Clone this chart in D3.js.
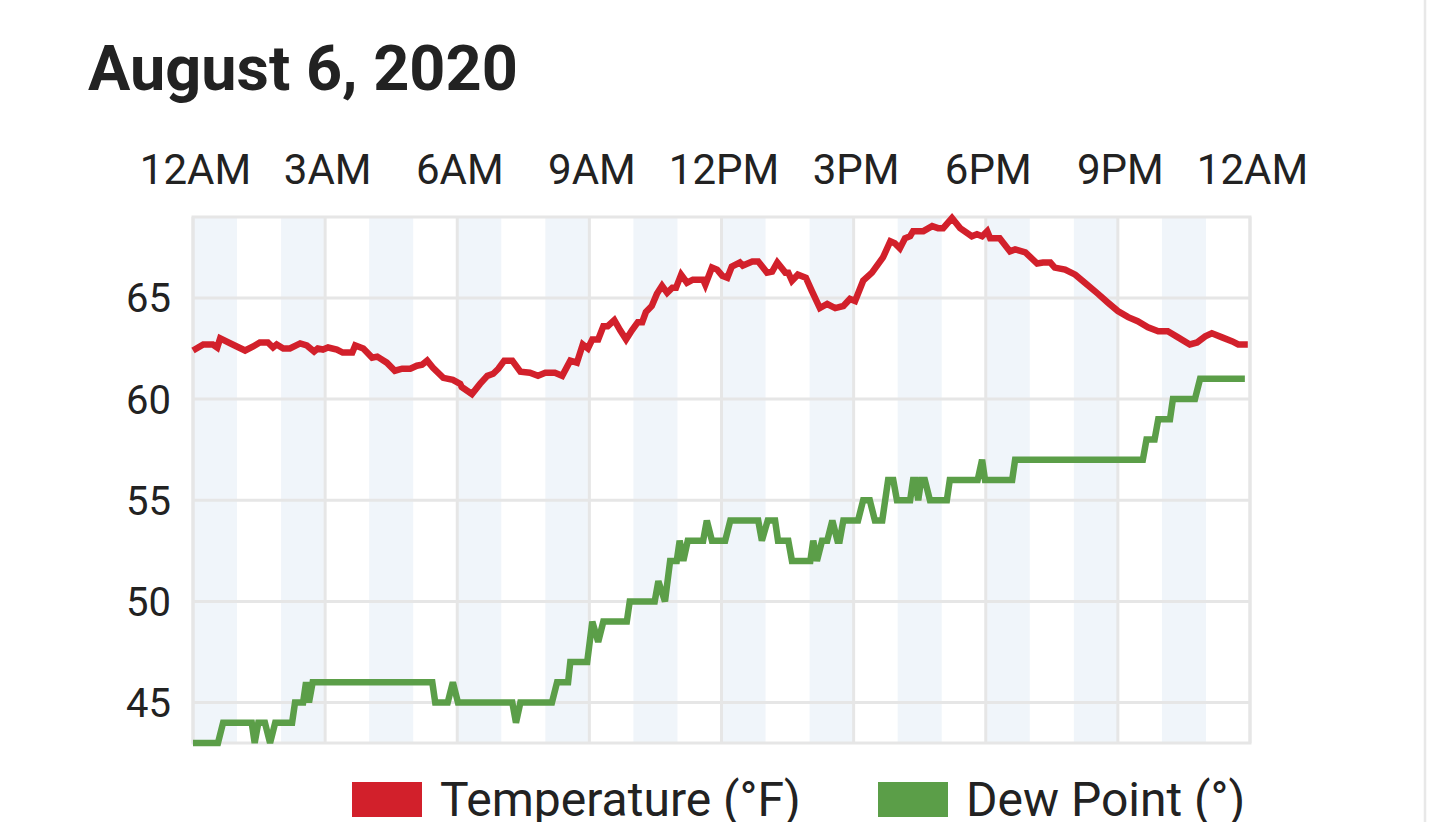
<!DOCTYPE html>
<html>
<head>
<meta charset="utf-8">
<script src="https://cdn.jsdelivr.net/npm/d3@7"></script>
<style>
  html, body { margin: 0; padding: 0; background: #fff; overflow: hidden; }
  svg { display: block; font-family: Roboto, "Noto Sans", sans-serif; }
</style>
</head>
<body>
<svg id="chart" width="1440" height="822"></svg>
<script>
// ---------------- DATA ----------------
const title = "August 6, 2020";
const xTickMinutes = [0, 180, 360, 540, 720, 900, 1080, 1260, 1440];
const xTickLabels = ["12AM", "3AM", "6AM", "9AM", "12PM", "3PM", "6PM", "9PM", "12AM"];
const yTickValues = [45, 50, 55, 60, 65];
const shadedHours = [0, 2, 4, 6, 8, 10, 12, 14, 16, 18, 20, 22];
const seriesNames = ["Temperature (°F)", "Dew Point (°)"];

// Temperature: minutes since midnight, °F
const tempMinutes = [0,14,27,33,37,54,71,82,91,102,109,114,123,132,146,155,165,170,177,184,196,204,217,221,232,244,251,264,275,285,296,305,312,319,327,341,354,364,366,380,391,401,409,416,424,435,446,459,470,480,493,503,514,523,531,538,544,552,559,565,574,582,590,598,606,612,617,625,632,639,646,653,658,665,673,681,695,698,707,714,721,728,734,745,749,762,770,782,789,796,807,811,816,824,835,843,854,864,875,886,895,902,913,925,940,950,956,963,970,977,981,995,1007,1015,1022,1034,1045,1061,1068,1075,1082,1086,1099,1113,1120,1134,1150,1158,1168,1174,1188,1202,1215,1233,1247,1260,1274,1287,1301,1315,1328,1342,1358,1368,1379,1388,1402,1416,1424,1437];
const tempValues = [62.4,62.7,62.7,62.55,63.0,62.7,62.4,62.6,62.8,62.8,62.55,62.7,62.5,62.5,62.75,62.65,62.35,62.5,62.45,62.55,62.45,62.3,62.3,62.65,62.5,62.05,62.1,61.8,61.4,61.5,61.5,61.65,61.7,61.9,61.55,61.05,60.95,60.75,60.6,60.25,60.75,61.15,61.25,61.5,61.9,61.9,61.35,61.3,61.15,61.3,61.3,61.15,61.9,61.8,62.7,62.5,62.95,62.95,63.6,63.6,63.9,63.4,62.95,63.4,63.8,63.8,64.3,64.6,65.2,65.6,65.25,65.5,65.5,66.15,65.75,65.9,65.9,65.65,66.5,66.4,66.1,66.0,66.55,66.75,66.6,66.8,66.8,66.25,66.3,66.75,66.25,66.25,65.85,66.15,66.0,65.35,64.5,64.7,64.5,64.6,64.95,64.85,65.85,66.25,67.0,67.8,67.7,67.45,67.95,68.05,68.3,68.3,68.55,68.45,68.45,68.95,68.45,68.05,68.15,68.05,68.3,67.95,67.95,67.3,67.4,67.25,66.7,66.75,66.75,66.5,66.4,66.15,65.75,65.2,64.75,64.35,64.05,63.85,63.55,63.35,63.35,63.05,62.7,62.8,63.1,63.25,63.05,62.85,62.7,62.7];

// Dew point: minutes since midnight, °
const dewMinutes = [0,34,41,80,84,89,98,105,112,135,139,150,154,158,163,326,330,347,354,361,435,440,446,489,496,511,514,537,544,552,559,591,595,629,634,643,650,659,663,668,674,695,700,707,725,732,770,775,783,793,797,811,816,841,845,850,857,864,871,878,881,886,906,913,922,929,939,947,954,959,977,981,984,988,992,997,1004,1027,1031,1069,1075,1079,1116,1120,1294,1299,1310,1315,1331,1335,1365,1372,1433];
const dewValues = [43,43,44,44,43,44,44,43,44,44,45,45,46,45,46,46,45,45,46,45,45,44,45,45,46,46,47,47,49,48,49,49,50,50,51,50,52,52,53,52,53,53,54,53,53,54,54,53,54,54,53,53,52,52,53,52,53,53,54,53,53,54,54,55,55,54,54,56,56,55,55,56,56,55,56,56,55,55,56,56,57,56,56,57,57,58,58,59,59,60,60,61,61];

const seriesColors = ["#d2202b", "#5b9e48"];

// ---------------- LAYOUT ----------------
const svg = d3.select("#chart");
const W = 1440, H = 822;
const plot = { left: 193, right: 1250, top: 217, bottom: 743 };

const x = d3.scaleLinear().domain([0, 1440]).range([plot.left, plot.right]);
const y = d3.scaleLinear().domain([43, 69]).range([plot.bottom, plot.top]);

const textColor = "#222";
const gridColor = "#e6e6e6";

// right-edge divider
svg.append("line")
  .attr("x1", 1425).attr("x2", 1425).attr("y1", 0).attr("y2", H)
  .attr("stroke", "#e8e8e8").attr("stroke-width", 2.5);

// title
svg.append("text")
  .attr("x", 88).attr("y", 90)
  .attr("font-size", 63).attr("font-weight", 700)
  .attr("fill", textColor)
  .text(title);

// shaded hour bands
svg.append("g").selectAll("rect")
  .data(shadedHours)
  .join("rect")
  .attr("x", d => x(d * 60))
  .attr("width", d => x((d + 1) * 60) - x(d * 60))
  .attr("y", plot.top)
  .attr("height", plot.bottom - plot.top)
  .attr("fill", "#f0f5fa");

// vertical grid
svg.append("g").selectAll("line")
  .data(xTickMinutes)
  .join("line")
  .attr("x1", d => x(d)).attr("x2", d => x(d))
  .attr("y1", plot.top).attr("y2", plot.bottom)
  .attr("stroke", gridColor).attr("stroke-width", 3);

// horizontal grid
svg.append("g").selectAll("line")
  .data(yTickValues)
  .join("line")
  .attr("x1", plot.left).attr("x2", plot.right)
  .attr("y1", d => y(d)).attr("y2", d => y(d))
  .attr("stroke", gridColor).attr("stroke-width", 3);

// frame
svg.append("rect")
  .attr("x", plot.left).attr("y", plot.top)
  .attr("width", plot.right - plot.left).attr("height", plot.bottom - plot.top)
  .attr("fill", "none").attr("stroke", gridColor).attr("stroke-width", 3);

// top x-axis labels
const xAxis = d3.axisTop(x)
  .tickValues(xTickMinutes)
  .tickFormat((d, i) => xTickLabels[i])
  .tickSize(0).tickPadding(0);
const gx = svg.append("g").attr("transform", `translate(0,184)`).call(xAxis);
gx.select(".domain").remove();
gx.selectAll("text")
  .attr("font-size", 42).attr("fill", textColor)
  .attr("font-family", "Roboto, sans-serif")
  .attr("dy", 0)
  .attr("dx", 2);

// left y-axis labels
const yAxis = d3.axisLeft(y)
  .tickValues(yTickValues)
  .tickFormat(d3.format("d"))
  .tickSize(0).tickPadding(0);
const gy = svg.append("g").attr("transform", `translate(171,0)`).call(yAxis);
gy.select(".domain").remove();
gy.selectAll("text")
  .attr("font-size", 40).attr("fill", textColor)
  .attr("font-family", "Roboto, sans-serif")
  .attr("dy", "0.35em");

// lines
const line = d3.line().x(d => x(d[0])).y(d => y(d[1]));
const tempData = tempMinutes.map((m, i) => [m, tempValues[i]]);
const dewData = dewMinutes.map((m, i) => [m, dewValues[i]]);

svg.append("path")
  .datum(dewData)
  .attr("d", line)
  .attr("fill", "none")
  .attr("stroke", seriesColors[1])
  .attr("stroke-width", 6.5)
  .attr("stroke-linejoin", "miter")
  .attr("stroke-miterlimit", 3);

svg.append("path")
  .datum(tempData)
  .attr("d", line)
  .attr("fill", "none")
  .attr("stroke", seriesColors[0])
  .attr("stroke-width", 6.5)
  .attr("stroke-linejoin", "miter")
  .attr("stroke-miterlimit", 3);

// legend
const legendX = [352, 878];
const legend = svg.append("g").selectAll("g")
  .data(seriesNames)
  .join("g")
  .attr("transform", (d, i) => `translate(${legendX[i]},0)`);
legend.append("rect")
  .attr("x", 0).attr("y", 782)
  .attr("width", 70).attr("height", 35)
  .attr("fill", (d, i) => seriesColors[i]);
legend.append("text")
  .attr("x", 88).attr("y", 816)
  .attr("font-size", 48).attr("fill", textColor)
  .text(d => d);
</script>
</body>
</html>
